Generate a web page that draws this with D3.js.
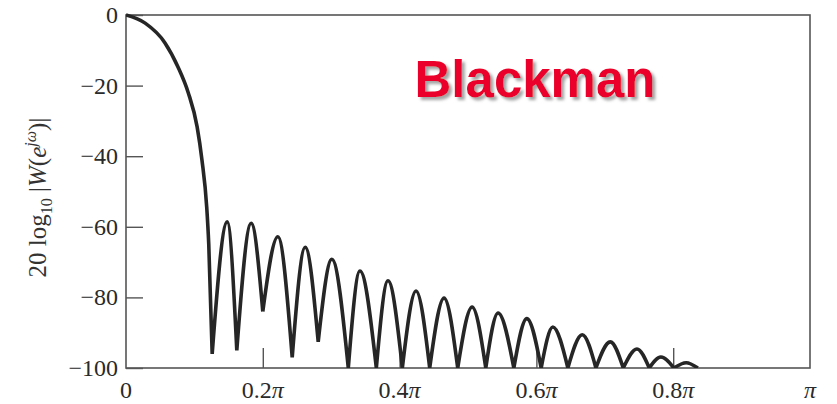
<!DOCTYPE html>
<html>
<head>
<meta charset="utf-8">
<script src="https://cdn.jsdelivr.net/npm/d3@7"></script>
<style>
  body { margin: 0; background: #fff; }
  svg { display: block; }
</style>
</head>
<body>
<div id="chart"></div>
<script>
// main lobe (frequency in units of pi, level in dB)
const mainFreq = [0, 0.028, 0.057, 0.076, 0.091, 0.104, 0.111, 0.118, 0.121, 0.126];
const mainDb = [0, -2.3, -7.9, -14.7, -22, -31.7, -41, -54.4, -65, -96];

// side lobes: nulls between lobes and the peak of each lobe
const nullFreq = [0.126, 0.162, 0.200, 0.243, 0.281, 0.325, 0.366, 0.404, 0.444, 0.485,
                  0.526, 0.567, 0.607, 0.646, 0.687, 0.727, 0.765, 0.801, 0.836];
const nullDb = [-96, -95, -84, -97, -92.6, -100, -100, -100, -100, -100,
                -100, -100, -100, -100, -100, -100, -100, -100, -100];
const peakFreq = [0.148, 0.183, 0.222, 0.262, 0.301, 0.342, 0.383, 0.424, 0.465,
                  0.506, 0.544, 0.586, 0.624, 0.667, 0.708, 0.747, 0.782, 0.819];
const peakDb = [-58.6, -59, -62.8, -65.8, -69.2, -72.5, -75.3, -78.2, -80.2,
                -82.7, -84.4, -86, -88.4, -90.6, -92.6, -94.6, -96.9, -98.5];

const yTicks = [0, -20, -40, -60, -80, -100];
const xTicks = [0, 0.2, 0.4, 0.6, 0.8, 1];
const xTickLabels = ["0", "0.2", "0.4", "0.6", "0.8", ""];

const width = 837;
const height = 404;
const marginLeft = 126;
const marginRight = 27;
const marginTop = 15;
const marginBottom = 36;

const x = d3.scaleLinear()
    .domain([0, 1])
    .range([marginLeft, width - marginRight]);

const y = d3.scaleLinear()
    .domain([-100, 0])
    .range([height - marginBottom, marginTop]);

const svg = d3.select("#chart")
    .append("svg")
    .attr("width", width)
    .attr("height", height)
    .attr("viewBox", `0 0 ${width} ${height}`);

const defs = svg.append("defs");
defs.append("clipPath")
    .attr("id", "plot-clip")
    .append("rect")
    .attr("x", marginLeft)
    .attr("y", marginTop - 2)
    .attr("width", width - marginLeft - marginRight)
    .attr("height", height - marginTop - marginBottom + 2);

const shadow = defs.append("filter").attr("id", "title-shadow")
    .attr("x", "-10%").attr("y", "-20%").attr("width", "130%").attr("height", "150%");
shadow.append("feDropShadow")
    .attr("dx", 3).attr("dy", 3).attr("stdDeviation", 1.5)
    .attr("flood-color", "#9a9a9a").attr("flood-opacity", 0.9);

const axisColor = "#555";
const serif = "'Liberation Serif', 'DejaVu Serif', serif";

// frame
svg.append("rect")
    .attr("x", x(0))
    .attr("y", y(0))
    .attr("width", x(1) - x(0))
    .attr("height", y(-100) - y(0))
    .attr("fill", "none")
    .attr("stroke", axisColor)
    .attr("stroke-width", 1.6);

// y axis: inward ticks
svg.append("g")
    .attr("transform", `translate(${x(0)},0)`)
    .call(d3.axisRight(y).tickValues(yTicks).tickSize(17).tickFormat(""))
    .call(g => g.select(".domain").remove())
    .call(g => g.selectAll(".tick line").attr("stroke", axisColor).attr("stroke-width", 1.4));

svg.append("g")
    .selectAll("text")
    .data(yTicks)
    .join("text")
    .attr("x", x(0) - 8)
    .attr("y", d => y(d) + 8)
    .attr("text-anchor", "end")
    .attr("font-family", serif)
    .attr("font-size", 24)
    .attr("fill", "#2a2a2a")
    .text(d => d === 0 ? "0" : "\u2212" + Math.abs(d));

// x axis: inward ticks
svg.append("g")
    .attr("transform", `translate(0,${y(-100)})`)
    .call(d3.axisTop(x).tickValues(xTicks.slice(1, 5)).tickSize(20).tickFormat(""))
    .call(g => g.select(".domain").remove())
    .call(g => g.selectAll(".tick line").attr("stroke", axisColor).attr("stroke-width", 1.4));

const xLab = svg.append("g")
    .selectAll("text")
    .data(xTicks)
    .join("text")
    .attr("x", d => x(d))
    .attr("y", height - 6)
    .attr("text-anchor", "middle")
    .attr("font-family", serif)
    .attr("font-size", 24)
    .attr("fill", "#2a2a2a");
xLab.append("tspan").text((d, i) => xTickLabels[i]);
xLab.filter(d => d > 0).append("tspan").attr("font-style", "italic").text("\u03c0");

// y axis title
const yTitle = svg.append("text")
    .attr("transform", `translate(46,${(y(0) + y(-100)) / 2 + 6}) rotate(-90)`)
    .attr("text-anchor", "middle")
    .attr("font-family", serif)
    .attr("font-size", 25)
    .attr("fill", "#333");
yTitle.append("tspan").text("20 log");
yTitle.append("tspan").attr("font-size", 16).attr("dy", 6).text("10");
yTitle.append("tspan").attr("dy", -6).text(" |");
yTitle.append("tspan").attr("font-style", "italic").text("W");
yTitle.append("tspan").text("(");
yTitle.append("tspan").attr("font-style", "italic").text("e");
yTitle.append("tspan").attr("font-style", "italic").attr("font-size", 16).attr("dy", -10).text("j\u03c9");
yTitle.append("tspan").attr("dy", 10).text(")|");

// response curve: main lobe, then each side lobe null -> peak -> null
const line = d3.line()
    .x(d => x(d[0]))
    .y(d => y(d[1]))
    .curve(d3.curveMonotoneX);

const segments = [d3.zip(mainFreq, mainDb)];
peakFreq.forEach((f, i) => {
    segments.push([[nullFreq[i], nullDb[i]], [f, peakDb[i]], [nullFreq[i + 1], nullDb[i + 1]]]);
});

svg.append("path")
    .attr("clip-path", "url(#plot-clip)")
    .attr("d", segments.map(s => line(s)).join(""))
    .attr("fill", "none")
    .attr("stroke", "#262626")
    .attr("stroke-width", 3.6)
    .attr("stroke-linejoin", "round");

// title
svg.append("text")
    .attr("x", 535)
    .attr("y", 97)
    .attr("text-anchor", "middle")
    .attr("font-family", "'Liberation Sans', Arial, sans-serif")
    .attr("font-weight", "bold")
    .attr("font-size", 51)
    .attr("fill", "#ea0029")
    .attr("filter", "url(#title-shadow)")
    .text("Blackman");
</script>
</body>
</html>
